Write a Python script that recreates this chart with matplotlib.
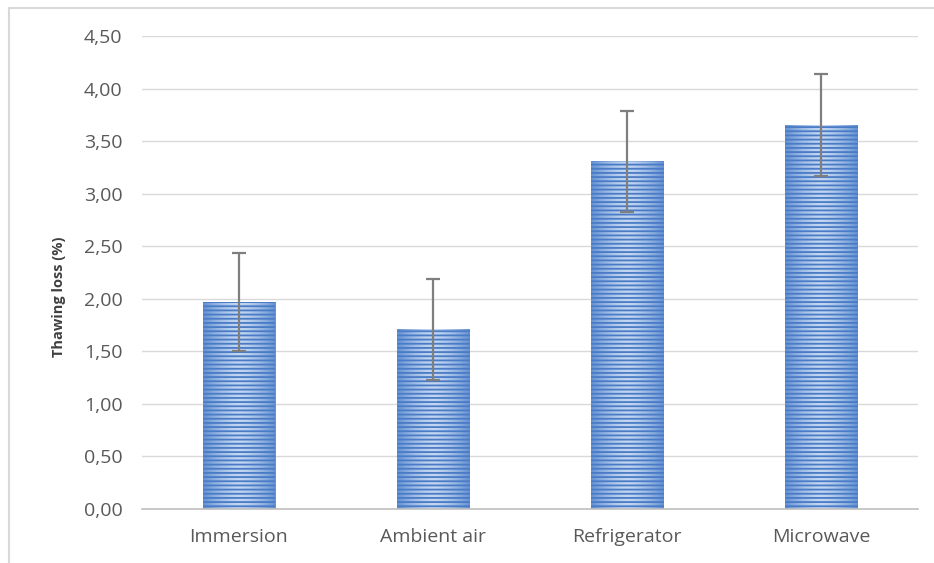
import numpy as np
import matplotlib
matplotlib.use('Agg')
import matplotlib.pyplot as plt
from matplotlib.lines import Line2D

plt.rcParams['font.family'] = ['Open Sans', 'DejaVu Sans']
plt.rcParams['hatch.linewidth'] = 1.3

methods = ['Immersion', 'Ambient air', 'Refrigerator', 'Microwave']
loss = [1.97, 1.71, 3.31, 3.65]
err = [0.47, 0.48, 0.48, 0.485]
yticks = [0, 0.5, 1.0, 1.5, 2.0, 2.5, 3.0, 3.5, 4.0, 4.5]

fig = plt.figure(figsize=(9.34, 5.63), dpi=100)
ax = fig.add_axes([0.152, 0.0959, 0.831, 0.84])

x = np.arange(len(methods))
bars = ax.bar(x, loss, width=0.376, color='#a9c6ec', edgecolor='none',
              hatch='----', zorder=2)
for b in bars:
    b.set_edgecolor('#4a7bc6')
    b.set_linewidth(0)

# horizontal gradient inside bars (darker edges, lighter center)
grad = np.abs(np.linspace(-1, 1, 64)) ** 1.5
grad = grad[np.newaxis, :]
cmap = matplotlib.colors.LinearSegmentedColormap.from_list('g', ['#c2d6f1', '#6592d3'])
for b in bars:
    x0, y0 = b.get_x(), b.get_y()
    im = ax.imshow(grad, cmap=cmap, aspect='auto', zorder=1.5,
                   extent=[x0, x0 + b.get_width(), y0, y0 + b.get_height()])
    im.set_clip_path(b)
    b.set_facecolor('none')

ax.errorbar(x, loss, yerr=err, fmt='none', ecolor='#7f7f7f', elinewidth=1.6,
            capsize=5, capthick=1.6, zorder=3)

ax.set_xlim(-0.5, 3.5)
ax.set_ylim(0, 4.5)
ax.set_yticks(yticks)
ax.set_yticklabels([('%.2f' % v).replace('.', ',') for v in yticks])
ax.set_xticks(x)
ax.set_xticklabels(methods)
ax.tick_params(axis='both', length=0, labelsize=14, colors='#595959')
ax.tick_params(axis='x', pad=14)
ax.tick_params(axis='y', pad=14)
ax.grid(axis='y', color='#d9d9d9', linewidth=1, zorder=0)
ax.set_axisbelow(True)
for s in ['top', 'right', 'left']:
    ax.spines[s].set_visible(False)
ax.spines['bottom'].set_color('#bfbfbf')
ax.spines['bottom'].set_linewidth(1.2)
ax.set_ylabel('Thawing loss (%)', fontsize=10.5, fontweight='bold', color='#404040')
ax.yaxis.set_label_coords(-0.098, 0.448)

# chart border (left and top visible)
fig.add_artist(Line2D([9 / 934, 9 / 934], [0, 1 - 8 / 563], color='#d9d9d9', lw=1.5))
fig.add_artist(Line2D([9 / 934, 1], [1 - 8 / 563, 1 - 8 / 563], color='#d9d9d9', lw=1.5))

fig.savefig('out.png', dpi=100)
